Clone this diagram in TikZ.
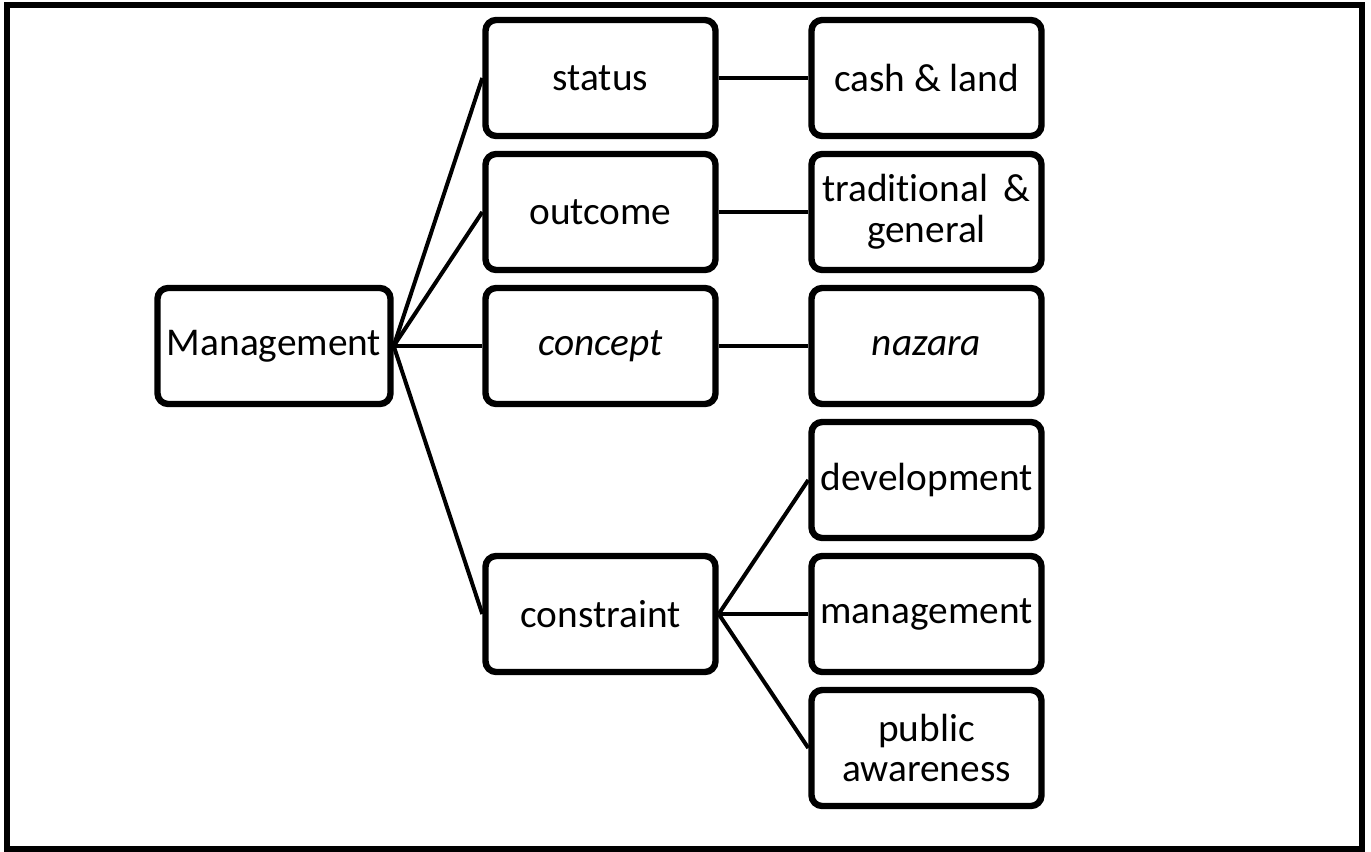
\documentclass[tikz,border=0pt]{standalone}
\usepackage{fontspec}
\setmainfont[Ligatures={NoCommon}]{Carlito}
\usetikzlibrary{shadows}
\begin{document}
\begin{tikzpicture}[x=0.75pt,y=-0.75pt,
  box/.style={draw=black,line width=4.8pt,rounded corners=8pt,fill=white,
    minimum width=172.5pt,minimum height=87pt,inner sep=0pt,align=center,
    font=\fontsize{29.5}{30.5}\selectfont,
    drop shadow={shadow xshift=1.5pt,shadow yshift=-2pt,opacity=0.35,fill=gray}},
  link/.style={line width=3pt}]
\useasboundingbox (0,0) rectangle (1371,852);
\draw[line width=4.5pt] (7,5) rectangle (1362,849);
\node[box,minimum width=174.75pt] (mgmt) at (274,346) {Management};
\node[box] (status) at (600.5,78) {status};
\node[box] (outcome) at (600.5,212) {outcome};
\node[box] (concept) at (600.5,346) {\itshape concept};
\node[box] (constraint) at (600.5,614) {constraint};
\node[box] (cash) at (926.5,78) {cash \& land};
\node[box] (trad) at (926.5,212) {traditional\hspace{0.4em}\&\\general};
\node[box] (nazara) at (926.5,346) {\itshape nazara};
\node[box] (dev) at (926.5,480) {development};
\node[box] (man) at (926.5,614) {management};
\node[box] (pub) at (926.5,748) {public\\awareness};
\foreach \t in {status,outcome,concept,constraint}
  \draw[link] (mgmt.east) -- (\t.west);
\draw[link] (status.east) -- (cash.west);
\draw[link] (outcome.east) -- (trad.west);
\draw[link] (concept.east) -- (nazara.west);
\foreach \t in {dev,man,pub}
  \draw[link] (constraint.east) -- (\t.west);
\end{tikzpicture}
\end{document}
